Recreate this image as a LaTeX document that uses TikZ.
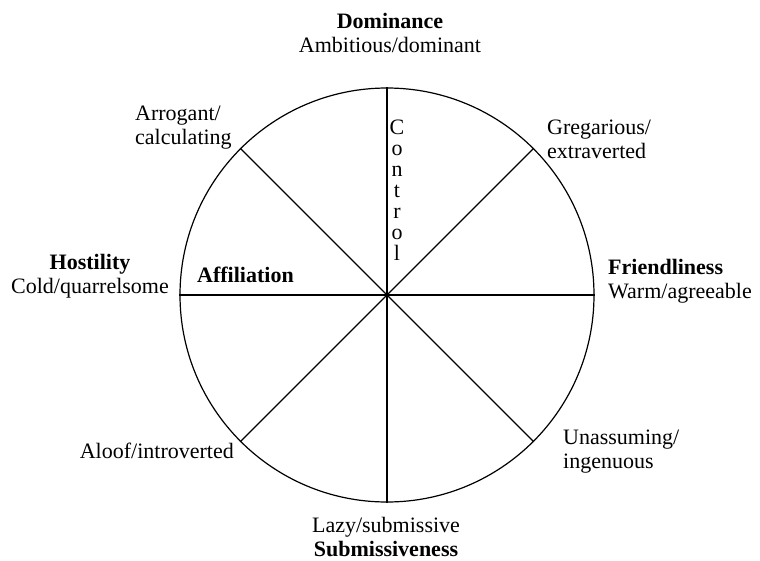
\documentclass[tikz,border=0pt]{standalone}
\usepackage{fontspec}
\setmainfont{Liberation Serif}
\begin{document}
\begin{tikzpicture}[x=1pt,y=-1pt,
  lbl/.style={inner sep=0pt,font=\fontsize{22}{24}\selectfont},
  spoke/.style={line width=1.2pt},
  ringstyle/.style={circle,draw,line width=1.2pt,inner sep=0pt,minimum size=414pt}]
\useasboundingbox (0,0) rectangle (760,560);
% the circle and its four diameters
\node[ringstyle] (ring) at (387,295) {};
\draw[spoke] (ring.north) -- (ring.south);
\draw[spoke] (ring.west) -- (ring.east);
\draw[spoke] (ring.135) -- (ring.-45);
\draw[spoke] (ring.45) -- (ring.-135);
% axis labels
\node[lbl,align=center] (dom) at (390,33) {\textbf{Dominance}\\Ambitious/dominant};
\node[lbl,align=center] (sub) at (386,537) {Lazy/submissive\\\textbf{Submissiveness}};
\node[lbl,align=center] (hos) at (90,276) {\textbf{Hostility}\\Cold/quarrelsome};
\node[lbl,align=left,anchor=west] (fri) at (608,281) {\textbf{Friendliness}\\Warm/agreeable};
% octant labels
\node[lbl,align=left,anchor=west] (arr) at (135,128) {Arrogant/\\calculating};
\node[lbl,align=left,anchor=west] (gre) at (547,139) {Gregarious/\\extraverted};
\node[lbl,anchor=east] (alo) at (234,451) {Aloof/introverted};
\node[lbl,align=left,anchor=west] (una) at (563,452) {Unassuming/\\ingenuous};
% dimension labels inside the circle
\node[lbl,anchor=west] (aff) at (197,275) {\textbf{Affiliation}};
\node[inner sep=0pt,align=center,font=\fontsize{22}{21}\selectfont] (ctl) at (397,190) {C\\o\\n\\t\\r\\o\\l};
\end{tikzpicture}
\end{document}
